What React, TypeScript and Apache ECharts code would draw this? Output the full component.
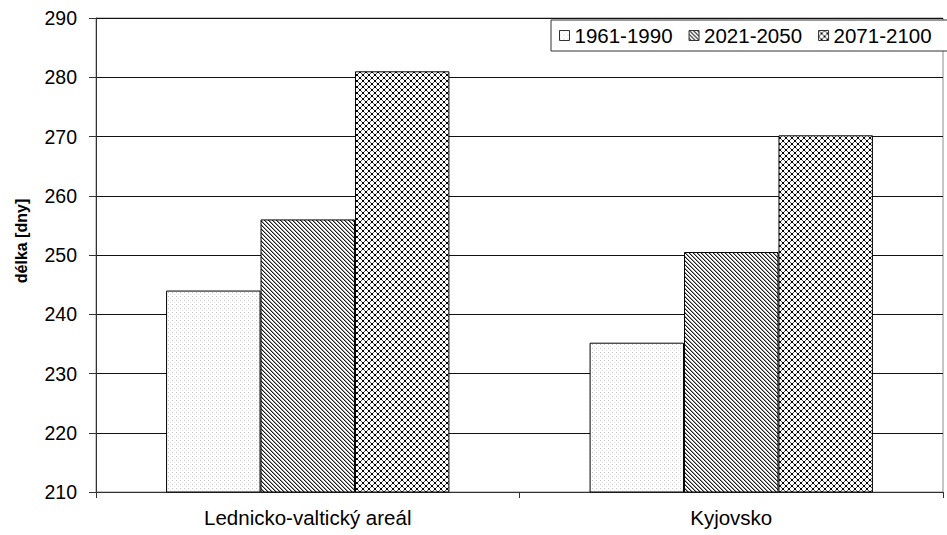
import React, { useEffect, useRef } from "react";
import * as echarts from "echarts";

const categories = ["Lednicko-valtický areál", "Kyjovsko"];
const periods = ["1961-1990", "2021-2050", "2071-2100"];
const values1961 = [244, 235.2];
const values2021 = [256, 250.5];
const values2071 = [281, 270.2];
const yTicks = [210, 220, 230, 240, 250, 260, 270, 280, 290];
const yTitle = "délka [dny]";

const FONT = 'Arial, "Liberation Sans", sans-serif';

type Painter = (ctx: CanvasRenderingContext2D, size: number) => void;

function makeTile(size: number, paint: Painter): HTMLCanvasElement {
  const c = document.createElement("canvas");
  c.width = size;
  c.height = size;
  const ctx = c.getContext("2d")!;
  ctx.fillStyle = "#ffffff";
  ctx.fillRect(0, 0, size, size);
  paint(ctx, size);
  return c;
}

// sparse light dots
const dotTile = () =>
  makeTile(4, (ctx) => {
    ctx.fillStyle = "#c4c4c4";
    ctx.fillRect(0, 0, 1, 1);
    ctx.fillStyle = "#e0e0e0";
    ctx.fillRect(2, 2, 1, 1);
  });

// diagonal stripes running top-left to bottom-right
const stripeTile = () =>
  makeTile(4, (ctx, s) => {
    for (let i = 0; i < s; i++) {
      ctx.fillStyle = "#1a1a1a";
      ctx.fillRect(i, i, 1, 1);
      ctx.fillStyle = "#9a9a9a";
      ctx.fillRect((i + 1) % s, i, 1, 1);
    }
  });

// diamond lattice with dark knots at the crossings
const latticeTile = () =>
  makeTile(6, (ctx, s) => {
    ctx.fillStyle = "#555555";
    for (let i = 0; i < s; i++) {
      ctx.fillRect(i, i, 1, 1);
      ctx.fillRect(s - 1 - i, i, 1, 1);
    }
    ctx.fillStyle = "#000000";
    ctx.fillRect(2, 2, 2, 2);
    ctx.fillRect(0, 0, 1, 1);
    ctx.fillRect(5, 0, 1, 1);
    ctx.fillRect(0, 5, 1, 1);
    ctx.fillRect(5, 5, 1, 1);
  });

export default function App() {
  const ref = useRef<HTMLDivElement>(null);

  useEffect(() => {
    if (!ref.current) return;
    const chart = echarts.init(ref.current, undefined, { renderer: "svg" });

    const fills = [dotTile(), stripeTile(), latticeTile()].map((img) => ({
      image: img,
      repeat: "repeat" as const,
    }));
    const seriesValues = [values1961, values2021, values2071];

    chart.setOption({
      animation: false,
      backgroundColor: "#ffffff",
      textStyle: { fontFamily: FONT },
      grid: {
        left: 96,
        right: 4,
        top: 18,
        bottom: 43,
        show: true,
        borderColor: "#8c8c8c",
        borderWidth: 1,
        backgroundColor: "transparent",
      },
      legend: {
        left: 551,
        top: 20,
        width: 420,
        orient: "horizontal",
        padding: [4, 30, 4, 8],
        borderColor: "#333333",
        borderWidth: 1,
        backgroundColor: "#ffffff",
        itemWidth: 10,
        itemHeight: 10,
        itemGap: 16,
        textStyle: { fontSize: 20.5, color: "#000", fontFamily: FONT, lineHeight: 23 },
        data: periods.map((p, i) => ({
          name: p,
          icon: "rect",
          itemStyle: { color: fills[i], borderColor: "#333", borderWidth: 1 },
        })),
      },
      graphic: [
        {
          type: "text",
          x: 21,
          y: 241,
          rotation: Math.PI / 2,
          style: {
            text: yTitle,
            fontSize: 16,
            fontWeight: "bold",
            fontFamily: FONT,
            fill: "#000",
            align: "center",
            verticalAlign: "middle",
          },
        },
      ],
      xAxis: {
        type: "category",
        data: categories,
        axisLine: { lineStyle: { color: "#333", width: 1 } },
        axisTick: { show: true, length: 6, lineStyle: { color: "#333" } },
        axisLabel: { fontSize: 20.5, color: "#000", margin: 15, fontFamily: FONT },
      },
      yAxis: {
        type: "value",
        min: 210,
        max: 290,
        interval: 10,
        axisLine: { show: true, lineStyle: { color: "#333", width: 1 } },
        axisTick: { show: true, length: 7, lineStyle: { color: "#333" } },
        axisLabel: {
          fontSize: 19.5,
          color: "#000",
          margin: 19,
          fontFamily: FONT,
          formatter: (v: number) => (yTicks.includes(v) ? String(v) : ""),
        },
        splitLine: { show: true, lineStyle: { color: "#111", width: 1 } },
      },
      series: periods.map((p, i) => ({
        name: p,
        type: "bar",
        data: seriesValues[i],
        barWidth: "22.3%",
        barGap: "0%",
        barCategoryGap: "33%",
        itemStyle: { color: fills[i], borderColor: "#000", borderWidth: 1 },
      })),
    });

    return () => chart.dispose();
  }, []);

  return <div ref={ref} style={{ width: 947, height: 535, position: "absolute", left: 0, top: 0 }} />;
}
